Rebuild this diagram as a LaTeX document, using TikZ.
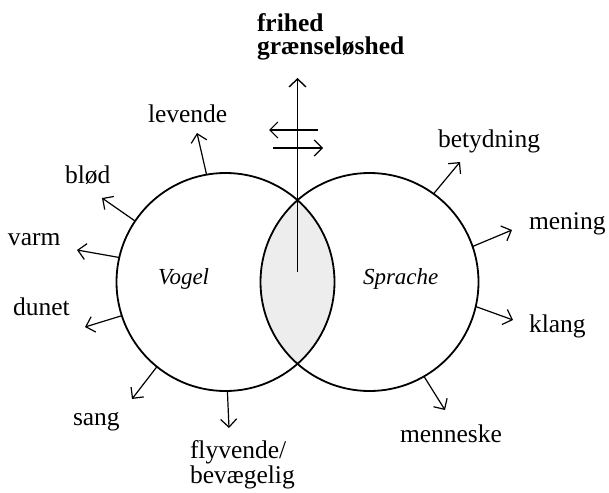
\documentclass[tikz,border=0pt]{standalone}
\usepackage{fontspec}
\setmainfont{Liberation Serif}
\usetikzlibrary{arrows.meta}
\definecolor{lensgray}{HTML}{EDEDED}
\begin{document}
\begin{tikzpicture}[x=1pt,y=-1pt,
  setc/.style={circle,draw,line width=1.8pt,minimum size=218pt,inner sep=0pt,outer sep=0pt},
  ray/.style={line width=1.2pt,-{Straight Barb[length=8pt,width=16pt]}},
  lbl/.style={anchor=base west,inner sep=0pt,outer sep=0pt,font=\fontsize{25.5}{23}\selectfont},
  ilbl/.style={anchor=base west,inner sep=0pt,outer sep=0pt,font=\fontsize{23}{23}\selectfont\itshape},
  ml/.style={lbl,align=left}]
\useasboundingbox (0,0) rectangle (609,492);
% lens
\begin{scope}
  \clip (225.5,282) circle (109pt);
  \fill[lensgray] (369.5,282) circle (109pt);
\end{scope}
\node[setc] (L) at (225.5,282) {};
\node[setc] (R) at (369.5,282) {};
\node[ilbl] (vogel) at (158,284) {Vogel};
\node[ilbl] (sprache) at (363,284) {Sprache};
% vertical and horizontal arrows
\coordinate (vbot) at (297.5,272);
\coordinate (vtop) at (297.5,78);
\draw[line width=1.4pt,-{Straight Barb[length=8pt,width=17pt]}] (vbot) -- (vtop);
\coordinate (h1s) at (318,130);
\coordinate (h1e) at (269,130);
\coordinate (h2s) at (273,148);
\coordinate (h2e) at (323,148);
\draw[line width=1.2pt,-{Straight Barb[length=8pt,width=16pt]}] (h1s) -- (h1e);
\draw[line width=1.2pt,-{Straight Barb[length=8pt,width=16pt]}] (h2s) -- (h2e);
\node[ml,font=\fontsize{25.5}{23}\selectfont\bfseries] (frihed) at (257,55) {frihed\\grænseløshed};
% tips
\coordinate (tlev) at (197,133);
\coordinate (tblo) at (102,198);
\coordinate (tvar) at (77,250);
\coordinate (tdun) at (85,327);
\coordinate (tsan) at (132,399);
\coordinate (tfly) at (229,428);
\coordinate (tbet) at (460,162);
\coordinate (tmen) at (512,230);
\coordinate (tkla) at (513,320);
\coordinate (tmns) at (445,410);
\draw[ray] (L.100.7) -- (tlev);
\draw[ray] (L.146.2) -- (tblo);
\draw[ray] (L.167.4) -- (tvar);
\draw[ray] (L.198.3) -- (tdun);
\draw[ray] (L.231.5) -- (tsan);
\draw[ray] (L.271) -- (tfly);
\draw[ray] (R.54.8) -- (tbet);
\draw[ray] (R.19.7) -- (tmen);
\draw[ray] (R.-13.6) -- (tkla);
\draw[ray] (R.-60.6) -- (tmns);
% labels
\node[lbl] (levende) at (148,122) {levende};
\node[lbl] (blod) at (65,183) {blød};
\node[lbl] (varm) at (8,245) {varm};
\node[lbl] (dunet) at (13,315) {dunet};
\node[lbl] (sang) at (73,425) {sang};
\node[ml] (flyv) at (190,483) {flyvende/\\bevægelig};
\node[lbl] (betyd) at (438,147) {betydning};
\node[lbl] (mening) at (529,229) {mening};
\node[lbl] (klang) at (529,332) {klang};
\node[lbl] (menn) at (400,442) {menneske};
\end{tikzpicture}
\end{document}
